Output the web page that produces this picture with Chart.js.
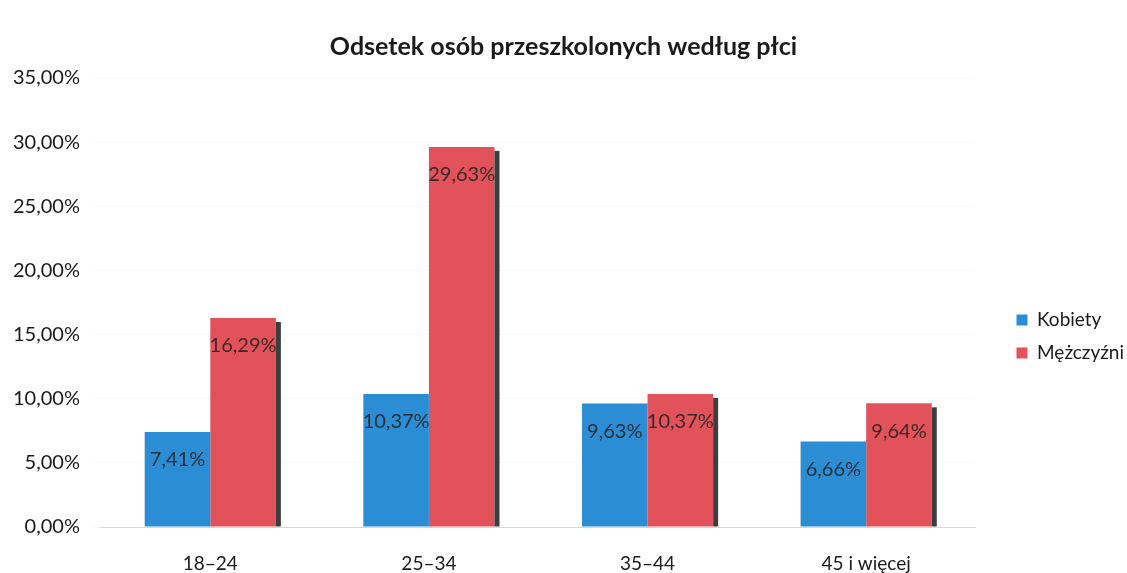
<!DOCTYPE html>
<html>
<head>
<meta charset="utf-8">
<script src="https://cdn.jsdelivr.net/npm/chart.js@4"></script>
<style>
    html, body { margin: 0; padding: 0; background: #fff; }
    #wrap { width: 1127px; height: 573px; position: relative; }
</style>
</head>
<body>
<div id="wrap"><canvas id="chart"></canvas></div>
<script>
const categories = ['18\u201324', '25\u201334', '35\u201344', '45 i wi\u0119cej'];
const kobiety = [7.41, 10.37, 9.63, 6.66];
const mezczyzni = [16.29, 29.63, 10.37, 9.64];

const fontFamily = "Lato, 'Open Sans', sans-serif";

function pct(v) {
    return v.toFixed(2).replace('.', ',') + '%';
}

// dark edge on the right of the bars (3D look) + value labels inside the bars
const barExtras = {
    id: 'barExtras',
    afterLayout(chart) {
        // legend sits a bit further right and lower than chart.js would put it
        const lg = chart.legend;
        lg.left += 27; lg.right += 27;
        lg.top += 34; lg.bottom += 34;
        // title is centred on the whole page
        const t = chart.titleBlock;
        if (t) { t.left += 10; t.right += 10; }
    },
    afterDatasetsDraw(chart) {
        const ctx = chart.ctx;
        ctx.save();
        chart.data.datasets.forEach((ds, i) => {
            const meta = chart.getDatasetMeta(i);
            meta.data.forEach((bar, j) => {
                if (i === 1) {
                    ctx.fillStyle = '#3b3d3f';
                    ctx.fillRect(bar.x + bar.width / 2, bar.y + 4, 5, bar.base - bar.y - 4);
                }
                ctx.fillStyle = 'rgba(30,30,30,0.85)';
                ctx.font = '20px ' + fontFamily;
                ctx.textAlign = 'center';
                ctx.textBaseline = 'middle';
                ctx.fillText(pct(ds.data[j]), bar.x, bar.y + 28);
            });
        });
        ctx.restore();
    }
};

new Chart(document.getElementById('chart'), {
    type: 'bar',
    data: {
        labels: categories,
        datasets: [
            {
                label: 'Kobiety',
                data: kobiety,
                backgroundColor: '#2b8ed4',
            },
            {
                label: 'M\u0119\u017cczy\u017ani',
                data: mezczyzni,
                backgroundColor: '#e2525a',
            }
        ]
    },
    options: {
        responsive: true,
        maintainAspectRatio: false,
        animation: false,
        categoryPercentage: 0.6,
        barPercentage: 1.0,
        layout: { padding: { left: 0, right: 20, top: 32, bottom: 0 } },
        plugins: {
            title: {
                display: true,
                text: 'Odsetek os\u00f3b przeszkolonych wed\u0142ug p\u0142ci',
                color: '#1a1a1a',
                font: { family: fontFamily, size: 25, weight: 'bold' },
                padding: { top: 0, bottom: 16 }
            },
            legend: {
                position: 'right',
                labels: {
                    color: '#1a1a1a',
                    font: { family: fontFamily, size: 19 },
                    boxWidth: 11,
                    boxHeight: 11,
                    padding: 14
                }
            },
            tooltip: { enabled: false }
        },
        scales: {
            x: {
                grid: { display: false },
                border: { color: '#d9d9d9' },
                afterFit: (scale) => { scale.height = 46; },
                ticks: {
                    color: '#1a1a1a',
                    padding: 17,
                    font: { family: fontFamily, size: 19 }
                }
            },
            y: {
                min: 0,
                max: 35,
                grid: { color: 'rgba(0,0,0,0.03)' },
                border: { display: false },
                ticks: {
                    stepSize: 5,
                    color: '#1a1a1a',
                    padding: 13,
                    font: { family: fontFamily, size: 20 },
                    callback: (v) => pct(v)
                }
            }
        }
    },
    plugins: [barExtras]
});
</script>
</body>
</html>
